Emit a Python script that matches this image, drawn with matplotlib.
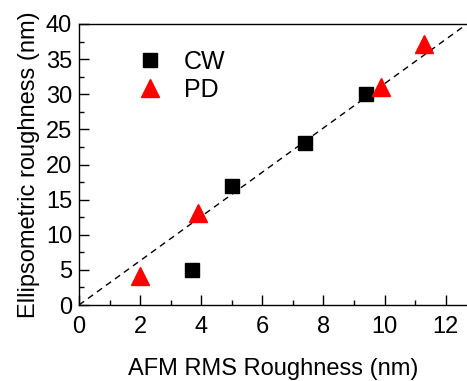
import matplotlib
matplotlib.use("Agg")
import matplotlib.pyplot as plt
import numpy as np
from matplotlib.ticker import MultipleLocator

plt.rcParams['font.family'] = ['Liberation Sans', 'DejaVu Sans']

cw_x = [3.7, 5.0, 7.4, 9.4]
cw_y = [5.0, 17.0, 23.0, 30.0]
pd_x = [2.0, 3.9, 9.9, 11.3]
pd_y = [4.1, 13.1, 31.1, 37.2]
fit_slope = 3.15
fit_x = [0, 13]

fig = plt.figure(figsize=(4.67, 3.81), dpi=100)
ax = fig.add_axes([79/467, 1-305/381, (467-79)/467, (305-24)/381])

ax.plot(fit_x, [fit_slope*v for v in fit_x], color='black', ls=(0, (4.5, 3.5)), lw=1)
ax.plot(cw_x, cw_y, 's', color='black', ms=9.5, ls='none', label='CW')
ax.plot(pd_x, pd_y, '^', color='red', ms=13, ls='none', label='PD')

ax.set_xlim(0, 12.7)
ax.set_ylim(0, 40)
ax.xaxis.set_major_locator(MultipleLocator(2))
ax.xaxis.set_minor_locator(MultipleLocator(1))
ax.yaxis.set_major_locator(MultipleLocator(5))
ax.yaxis.set_minor_locator(MultipleLocator(2.5))
ax.tick_params(which='both', direction='in', labelsize=17, width=1, top=False, right=False)
ax.tick_params(which='major', length=7)
ax.tick_params(axis='x', which='major', pad=8)
ax.tick_params(axis='y', which='major', pad=5)
ax.tick_params(which='minor', length=3.5)
ax.spines['right'].set_visible(False)
for s in ax.spines.values():
    s.set_linewidth(1)

ax.set_xlabel('AFM RMS Roughness (nm)', fontsize=17, labelpad=14)
ax.set_ylabel('Ellipsometric roughness (nm)', fontsize=17, labelpad=4)

ax.legend(loc='upper left', bbox_to_anchor=(0.093, 0.988), frameon=False, fontsize=18,
          handletextpad=0.85, labelspacing=0.15, handlelength=1.0)

fig.savefig('out.png', dpi=100)
